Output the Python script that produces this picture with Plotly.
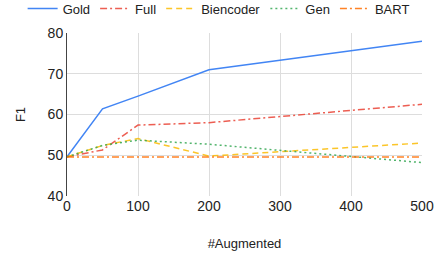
import plotly.graph_objects as go

x_vals = [0, 50, 100, 200, 500]
gold = [49.6, 61.4, 64.5, 71.0, 78.0]
full = [49.6, 51.3, 57.4, 58.0, 62.5]
biencoder = [49.6, 52.4, 54.1, 49.8, 53.0]
gen = [49.6, 52.4, 53.7, 52.7, 48.2]
bart = [49.6, 49.6, 49.5, 49.5, 49.6]

series = [
    ("Gold", gold, "#4285F4", "solid"),
    ("Full", full, "#EA4335", "7px,3px,2px,3px"),
    ("Biencoder", biencoder, "#FBBC04", "6px,4px"),
    ("Gen", gen, "#34A853", "2px,3px"),
    ("BART", bart, "#FF6D01", "7px,3px,2px,3px"),
]

fig = go.Figure()
for name, ys, color, dash in series:
    fig.add_trace(go.Scatter(
        x=x_vals, y=ys, name=name, mode="lines",
        line=dict(color=color, width=1.5, dash=dash),
        opacity=0.85 if name != "Gold" else 1.0,
    ))

fig.update_layout(
    width=436, height=254,
    margin=dict(l=67, r=14, t=33, b=58, autoexpand=False),
    paper_bgcolor="white", plot_bgcolor="white",
    font=dict(family="Liberation Sans, Arial, sans-serif", color="#222222", size=13),
    legend=dict(orientation="h", x=-0.125, xanchor="left",
                y=1.15, yanchor="middle",
                font=dict(size=13), itemwidth=30,
                tracegroupgap=0, bgcolor="rgba(0,0,0,0)"),
    xaxis=dict(
        range=[0, 500], tickvals=[0, 100, 200, 300, 400, 500],
        showgrid=True, gridcolor="#dddddd", zeroline=False,
        showline=False, tickfont=dict(size=14),
        title=dict(text="#Augmented", font=dict(size=13), standoff=25),
        automargin=False,
    ),
    yaxis=dict(
        range=[40, 80], tickvals=[40, 50, 60, 70, 80],
        showgrid=True, gridcolor="#dddddd", zeroline=False,
        showline=True, linecolor="#444444", linewidth=1,
        tickfont=dict(size=14),
        title=dict(text="F1", font=dict(size=13), standoff=19),
        automargin=False,
    ),
)

fig.write_html("out.html", config={"displayModeBar": False},
               post_script="document.body.style.margin='0';")
